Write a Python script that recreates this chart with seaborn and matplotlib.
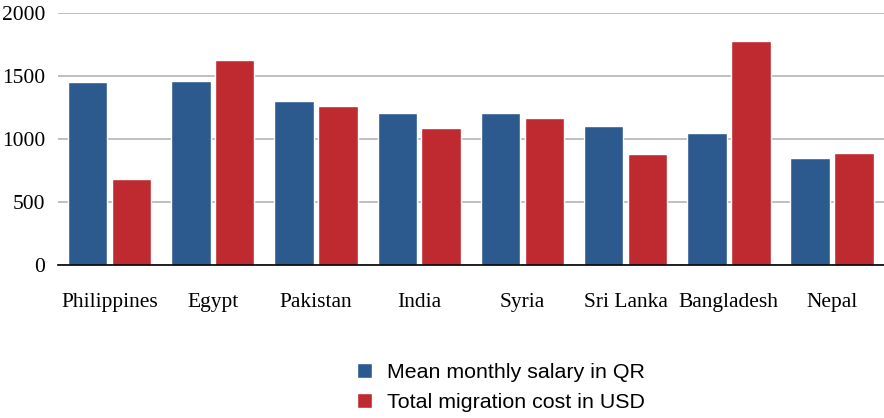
import pandas as pd
import numpy as np
import matplotlib
matplotlib.use("Agg")
import matplotlib.pyplot as plt
import seaborn as sns

sns.set_theme(style="white")

countries = ["Philippines", "Egypt", "Pakistan", "India", "Syria", "Sri Lanka", "Bangladesh", "Nepal"]
salary_qr = [1450, 1460, 1300, 1210, 1210, 1100, 1050, 850]
migration_usd = [680, 1630, 1265, 1085, 1165, 880, 1775, 890]
series_names = ["Mean monthly salary in QR", "Total migration cost in USD"]

df = pd.DataFrame({
    "country": countries * 2,
    "value": salary_qr + migration_usd,
    "series": [series_names[0]] * len(countries) + [series_names[1]] * len(countries),
})

colors = {series_names[0]: "#2d5a8e", series_names[1]: "#bf2a30"}

fig = plt.figure(figsize=(8.84, 4.18), dpi=100)
ax = fig.add_axes([0.0656, 0.366, 0.934, 0.603])

sns.barplot(data=df, x="country", y="value", hue="series", palette=colors,
            width=0.85, gap=0.1, saturation=1, ax=ax, legend=True)

ax.set_ylim(0, 2000)
ax.set_xlim(-0.5, 7.5)
ax.set_yticks([0, 500, 1000, 1500, 2000])
ax.yaxis.grid(True, color="#b4b4b4", linewidth=1.2)
ax.set_axisbelow(True)
for s in ["top", "right", "left"]:
    ax.spines[s].set_visible(False)
ax.spines["bottom"].set_color("black")
ax.spines["bottom"].set_linewidth(1.2)
ax.set_xlabel("")
ax.set_ylabel("")
ax.tick_params(axis="both", length=0, labelsize=15.5, colors="black")
ax.tick_params(axis="x", pad=20)
ax.tick_params(axis="y", pad=9)
for lab in ax.get_xticklabels() + ax.get_yticklabels():
    lab.set_family("Liberation Serif")

handles, labels = ax.get_legend_handles_labels()
ax.get_legend().remove()
leg = fig.legend(handles, labels, loc="center", bbox_to_anchor=(0.567, 0.072), frameon=False,
                 prop={"family": "Liberation Sans", "size": 15.4}, handlelength=0.7, handleheight=0.7,
                 handletextpad=0.7, labelspacing=0.52)
for t in leg.get_texts():
    t.set_color("black")

fig.savefig("out.png", dpi=100)
